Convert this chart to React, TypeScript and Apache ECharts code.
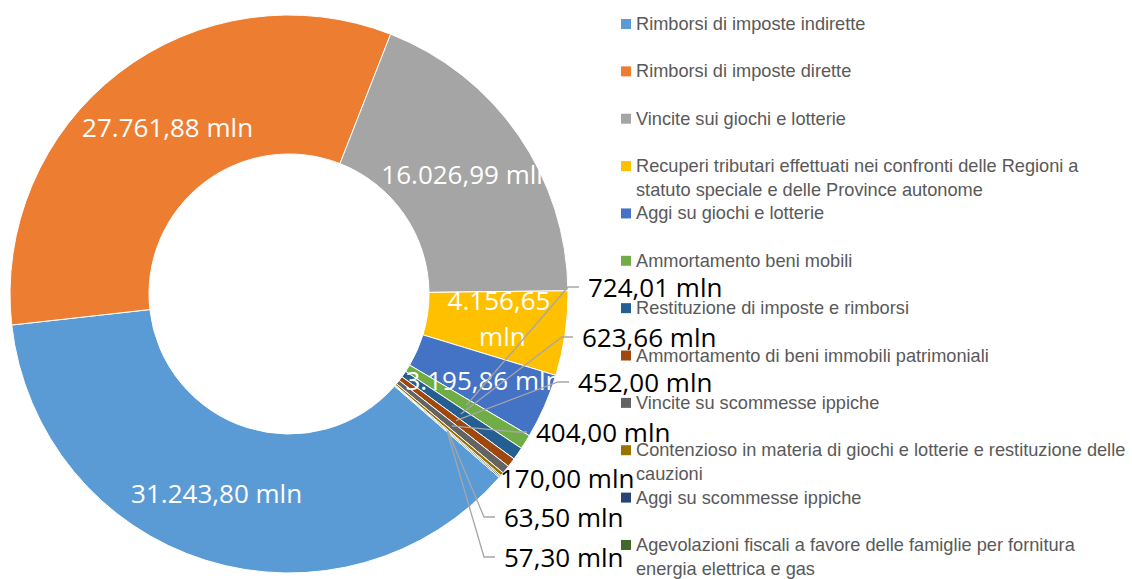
import React, { useEffect, useRef } from "react";
import * as echarts from "echarts";

// ---------- data ----------
const categories: string[] = [
  "Rimborsi di imposte indirette",
  "Rimborsi di imposte dirette",
  "Vincite sui giochi e lotterie",
  "Recuperi tributari effettuati nei confronti delle Regioni a\nstatuto speciale e delle Province autonome",
  "Aggi su giochi e lotterie",
  "Ammortamento beni mobili",
  "Restituzione di imposte e rimborsi",
  "Ammortamento di beni immobili patrimoniali",
  "Vincite su scommesse ippiche",
  "Contenzioso in materia di giochi e lotterie e restituzione delle\ncauzioni",
  "Aggi su scommesse ippiche",
  "Agevolazioni fiscali a favore delle famiglie per fornitura\nenergia elettrica e gas",
];
const values: number[] = [
  31243.8, 27761.88, 16026.99, 4156.65, 3195.86, 724.01, 623.66, 452.0, 404.0, 170.0, 63.5, 57.3,
];
const unit = "mln";

// ---------- style / layout ----------
const colors = [
  "#5B9BD5", "#ED7D31", "#A5A5A5", "#FFC000", "#4472C4", "#70AD47",
  "#255E91", "#9E480E", "#636363", "#997300", "#264478", "#43682B",
];
const CX = 289;
const CY = 294;
const R0 = 140;
const R1 = 279;
const START_ANGLE = -41.1;
const INSIDE_COUNT = 5;
// nudges for the inside labels
const insideLabelShift: Record<number, [number, number]> = {
  0: [-9, -4],
  1: [8, 2],
  2: [3, 1],
  3: [3, -6],
};
// label anchor (left x, middle y) for the small outside-labelled slices
const outsideLabelPos: Record<number, [number, number]> = {
  5: [588, 287],
  6: [582, 337],
  7: [578, 382],
  8: [536, 432],
  9: [500, 478],
  10: [504, 517],
  11: [504, 557],
};
const LEG_X = 621;
const LEG_Y0 = 24;
const LEG_STEP = 47.36;
const LEG_LINE = 24;
const LABEL_FONT = "'Open Sans', 'Noto Sans', sans-serif";
const LEGEND_FONT = "'Liberation Sans', Arial, sans-serif";

function fmt(v: number): string {
  const [ip, dp] = v.toFixed(2).split(".");
  const grouped = ip.replace(/\B(?=(\d{3})+(?!\d))/g, ".");
  return `${grouped},${dp} ${unit}`;
}

const total = values.reduce((a, b) => a + b, 0);
function midAngleRad(i: number): number {
  let before = 0;
  for (let k = 0; k < i; k++) before += values[k];
  const deg = START_ANGLE - ((before + values[i] / 2) / total) * 360;
  return (deg * Math.PI) / 180;
}

export default function App() {
  const ref = useRef<HTMLDivElement>(null);
  useEffect(() => {
    if (!ref.current) return;
    const chart = echarts.init(ref.current, undefined, { renderer: "svg" });

    const pieBase = {
      type: "pie",
      center: [CX, CY],
      radius: [R0, R1],
      startAngle: START_ANGLE,
      clockwise: true,
      avoidLabelOverlap: false,
      silent: true,
      legendHoverLink: false,
    };

    // slices + inside labels
    const sliceData = categories.map((name, i) => {
      const inside = i < INSIDE_COUNT;
      return {
        name,
        value: values[i],
        itemStyle: { color: colors[i] },
        label: inside
          ? {
              show: true,
              position: "inside",
              color: "#FFFFFF",
              ...(i === 3 ? { width: 110, overflow: "break", lineHeight: 36 } : {}),
            }
          : { show: false },
        labelLine: { show: false },
      };
    });

    // transparent overlay: outside labels with leader lines drawn above the slices
    const overlayData = categories.map((name, i) => {
      const inside = i < INSIDE_COUNT;
      return {
        name,
        value: values[i],
        itemStyle: { color: "rgba(0,0,0,0)", borderWidth: 0 },
        label: inside ? { show: false } : { show: true, position: "outside", color: "#000000" },
        labelLine: { show: !inside && i !== 9 },
      };
    });

    const option: any = {
      animation: false,
      backgroundColor: "#FFFFFF",
      legend: categories.map((name, i) => {
        const lines = name.split("\n").length;
        const c = LEG_Y0 + i * LEG_STEP;
        // multi-line entries: leading blank lines keep the first line level with the icon
        const blockLines = lines > 1 ? 2 * lines - 1 : 1;
        return {
          data: [name],
          orient: "vertical",
          left: LEG_X,
          top: c - (blockLines * LEG_LINE) / 2,
          padding: 0,
          itemWidth: 10,
          itemHeight: 10,
          icon: "rect",
          selectedMode: false,
          itemStyle: { borderWidth: 0 },
          formatter: (n: string) => (lines > 1 ? "\n".repeat(lines - 1) + n : n),
          textStyle: {
            fontFamily: LEGEND_FONT,
            fontSize: 18.2,
            color: "#595959",
            lineHeight: LEG_LINE,
          },
        };
      }),
      series: [
        {
          ...pieBase,
          z: 2,
          itemStyle: { borderColor: "#FFFFFF", borderWidth: 1 },
          label: {
            formatter: (p: any) => fmt(p.value),
            fontFamily: LABEL_FONT,
            fontSize: 26,
          },
          labelLayout: (p: any) => {
            const shift = insideLabelShift[p.dataIndex];
            return shift ? { dx: shift[0], dy: shift[1] } : {};
          },
          data: sliceData,
        },
        {
          ...pieBase,
          z: 3,
          label: {
            formatter: (p: any) => fmt(p.value),
            fontFamily: LABEL_FONT,
            fontSize: 26,
          },
          labelLine: {
            showAbove: true,
            lineStyle: { color: "#A6A6A6", width: 1.3 },
          },
          labelLayout: (p: any) => {
            const i = p.dataIndex;
            const pos = outsideLabelPos[i];
            if (!pos) return {};
            const [lx, ly] = pos;
            const a = midAngleRad(i);
            const rm = (R0 + R1) / 2;
            const sx = CX + rm * Math.cos(a);
            const sy = CY - rm * Math.sin(a);
            return {
              x: lx,
              y: ly,
              align: "left",
              verticalAlign: "middle",
              labelLinePoints: [
                [sx, sy],
                [lx - 20, ly],
                [lx - 9, ly],
              ],
            };
          },
          data: overlayData,
        },
      ],
    };
    chart.setOption(option);
    return () => chart.dispose();
  }, []);
  return (
    <div
      ref={ref}
      style={{ position: "absolute", left: 0, top: 0, width: 1132, height: 579 }}
    />
  );
}
